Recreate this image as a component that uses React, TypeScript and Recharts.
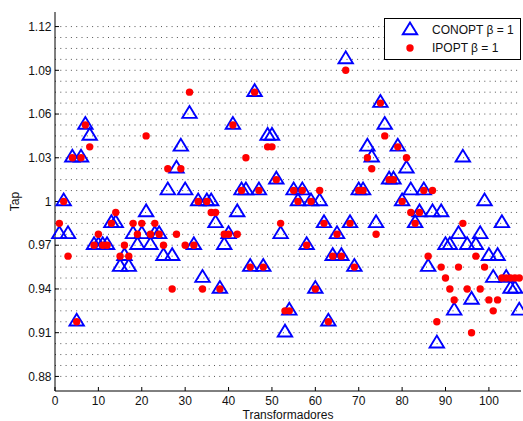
import { ScatterChart, Scatter, XAxis, YAxis, ReferenceLine } from "recharts";

// tap values per transformer (1..107)
const conopt = [
  0.9775, 1.0, 0.9775, 1.03, 0.9175, 1.03, 1.0525, 1.045, 0.97, 0.97,
  0.97, 0.97, 0.985, 0.985, 0.955, 0.9625, 0.955, 0.9775, 0.97, 0.9775,
  0.9925, 0.97, 0.9775, 0.9775, 0.9625, 1.0075, 0.9625, 1.0225, 1.0375, 1.0075,
  1.06, 0.97, 1.0, 0.9475, 1.0, 1.0, 0.985, 0.94, 0.97, 0.9775,
  1.0525, 0.9925, 1.0075, 1.0075, 0.955, 1.075, 1.0075, 0.955, 1.045, 1.045,
  1.015, 0.9775, 0.91, 0.925, 1.0075, 1.0, 1.0075, 0.97, 1.0, 0.94,
  1.0, 0.985, 0.9175, 0.9625, 0.9775, 0.9625, 1.0975, 0.985, 0.955, 1.0075,
  1.0075, 1.0375, 1.03, 0.985, 1.0675, 1.0525, 1.015, 1.015, 1.0375, 1.0,
  1.0225, 1.0075, 0.985, 0.9925, 1.0075, 0.955, 0.9925, 0.9025, 0.9925, 0.97,
  0.97, 0.925, 0.9775, 1.03, 0.97, 0.9325, 0.97, 0.9775, 1.0, 0.9625,
  0.9475, 0.9625, 0.985, 0.9475, 0.94, 0.94, 0.925,
];

const ipopt = [
  0.985, 1.0, 0.9625, 1.03, 0.9175, 1.03, 1.0525, 1.0375, 0.97, 0.9775,
  0.97, 0.97, 0.985, 0.9925, 0.9625, 0.97, 0.9625, 0.985, 0.9775, 0.985,
  1.045, 0.9775, 0.985, 0.9775, 0.97, 1.0225, 0.94, 0.9775, 1.0225, 0.97,
  1.075, 0.97, 1.0, 0.94, 1.0, 0.9925, 0.9925, 0.94, 0.9775, 0.9775,
  1.0525, 0.9775, 1.0075, 1.03, 0.955, 1.075, 1.0075, 0.955, 1.0375, 1.0375,
  1.015, 0.985, 0.925, 0.925, 1.0075, 1.0, 1.0075, 0.97, 1.0, 0.94,
  1.0075, 0.985, 0.9175, 0.9625, 0.9775, 0.9625, 1.09, 0.985, 0.955, 1.0075,
  1.0075, 1.03, 1.0225, 0.9775, 1.0675, 1.045, 1.015, 1.015, 1.0375, 1.0,
  1.03, 0.9925, 0.985, 0.9925, 1.0075, 0.9625, 1.0075, 0.9175, 0.955, 0.9475,
  0.94, 0.9325, 0.955, 0.985, 0.94, 0.91, 0.9625, 0.94, 0.955, 0.9325,
  0.925, 0.9325, 0.9475, 0.9475, 0.9475, 0.9475, 0.9475,
];

const xTicks = [0, 10, 20, 30, 40, 50, 60, 70, 80, 90, 100];
const yTicks = [0.88, 0.91, 0.94, 0.97, 1.0, 1.03, 1.06, 1.09, 1.12];

const conoptData = conopt.map((y, i) => ({ x: i + 1, y }));
const ipoptData = ipopt.map((y, i) => ({ x: i + 1, y }));

// dotted minor grid (matlab style)
const gridValues = Array.from({ length: 33 }, (_, k) => +(0.88 + 0.0075 * k).toFixed(4));

const FONT = "'Liberation Sans', Arial, Helvetica, sans-serif";
const BLUE = "#0000ff";
const RED = "#ff0000";

function Triangle(props: any) {
  const { cx, cy } = props;
  if (cx == null || cy == null) return null;
  return (
    <polygon
      points={`${cx},${cy - 8} ${cx - 7.2},${cy + 3.8} ${cx + 7.2},${cy + 3.8}`}
      fill="none"
      stroke={BLUE}
      strokeWidth={1.9}
    />
  );
}

function Dot(props: any) {
  const { cx, cy } = props;
  if (cx == null || cy == null) return null;
  return <circle cx={cx} cy={cy} r={3.7} fill={RED} />;
}

const tickStyle = { fontSize: 12, fill: "#111", fontFamily: FONT };

export default function App() {
  return (
    <div style={{ position: "absolute", left: 0, top: 0, width: 523, height: 421, background: "#fff" }}>
      <ScatterChart width={523} height={421} margin={{ top: 12, right: 2, bottom: 0, left: 0 }}>
        <XAxis
          xAxisId={0}
          dataKey="x"
          type="number"
          domain={[0, 107.4]}
          ticks={xTicks}
          interval={0}
          height={30}
          stroke="#000"
          tickSize={-4}
          tickMargin={9.5}
          tick={tickStyle}
          label={{
            content: (p: any) => (
              <text
                x={p.viewBox.x + p.viewBox.width / 2}
                y={419}
                textAnchor="middle"
                fontSize={12}
                fontFamily={FONT}
                fill="#111"
              >
                Transformadores
              </text>
            ),
          }}
        />
        <XAxis
          xAxisId="top"
          orientation="top"
          type="number"
          domain={[0, 107.4]}
          allowDataOverflow
          ticks={xTicks}
          interval={0}
          height={0}
          stroke="#000"
          tickSize={-4}
          tick={false}
        />
        <YAxis
          yAxisId={0}
          dataKey="y"
          type="number"
          domain={[0.87, 1.13]}
          ticks={yTicks}
          interval={0}
          width={55}
          stroke="#000"
          tickSize={-4}
          tickMargin={7.5}
          tick={tickStyle}
          tickFormatter={(v: number) => String(Number(v.toFixed(2)))}
          label={{
            content: (p: any) => {
              const cx = 15;
              const cy = p.viewBox.y + p.viewBox.height / 2;
              return (
                <text
                  x={cx}
                  y={cy}
                  transform={`rotate(-90 ${cx} ${cy})`}
                  textAnchor="middle"
                  dominantBaseline="central"
                  fontSize={12}
                  fontFamily={FONT}
                  fill="#111"
                >
                  Tap
                </text>
              );
            },
          }}
        />
        <YAxis
          yAxisId="right"
          orientation="right"
          type="number"
          domain={[0.87, 1.13]}
          allowDataOverflow
          ticks={yTicks}
          interval={0}
          width={0}
          stroke="#000"
          tickSize={-4}
          tick={false}
        />
        {gridValues.map((v) => (
          <ReferenceLine
            key={v}
            y={v}
            stroke="#555"
            strokeDasharray="1 4.3"
            strokeWidth={1}
            ifOverflow="visible"
          />
        ))}
        <Scatter name="CONOPT β = 1" data={conoptData} shape={<Triangle />} isAnimationActive={false} />
        <Scatter name="IPOPT β = 1" data={ipoptData} shape={<Dot />} isAnimationActive={false} />
      </ScatterChart>

      <svg
        width={137}
        height={42}
        style={{ position: "absolute", left: 384, top: 18 }}
      >
        <rect x={0.5} y={0.5} width={136} height={41} fill="#fff" stroke="#000" strokeWidth={1} />
        <polygon points="26,4.5 18.8,16.3 33.2,16.3" fill="none" stroke={BLUE} strokeWidth={1.9} />
        <circle cx={26} cy={30} r={3.7} fill={RED} />
        <text x={48} y={15.5} fontSize={12} fontFamily={FONT} fill="#111">
          CONOPT β = 1
        </text>
        <text x={48} y={34} fontSize={12} fontFamily={FONT} fill="#111">
          IPOPT β = 1
        </text>
      </svg>
    </div>
  );
}
